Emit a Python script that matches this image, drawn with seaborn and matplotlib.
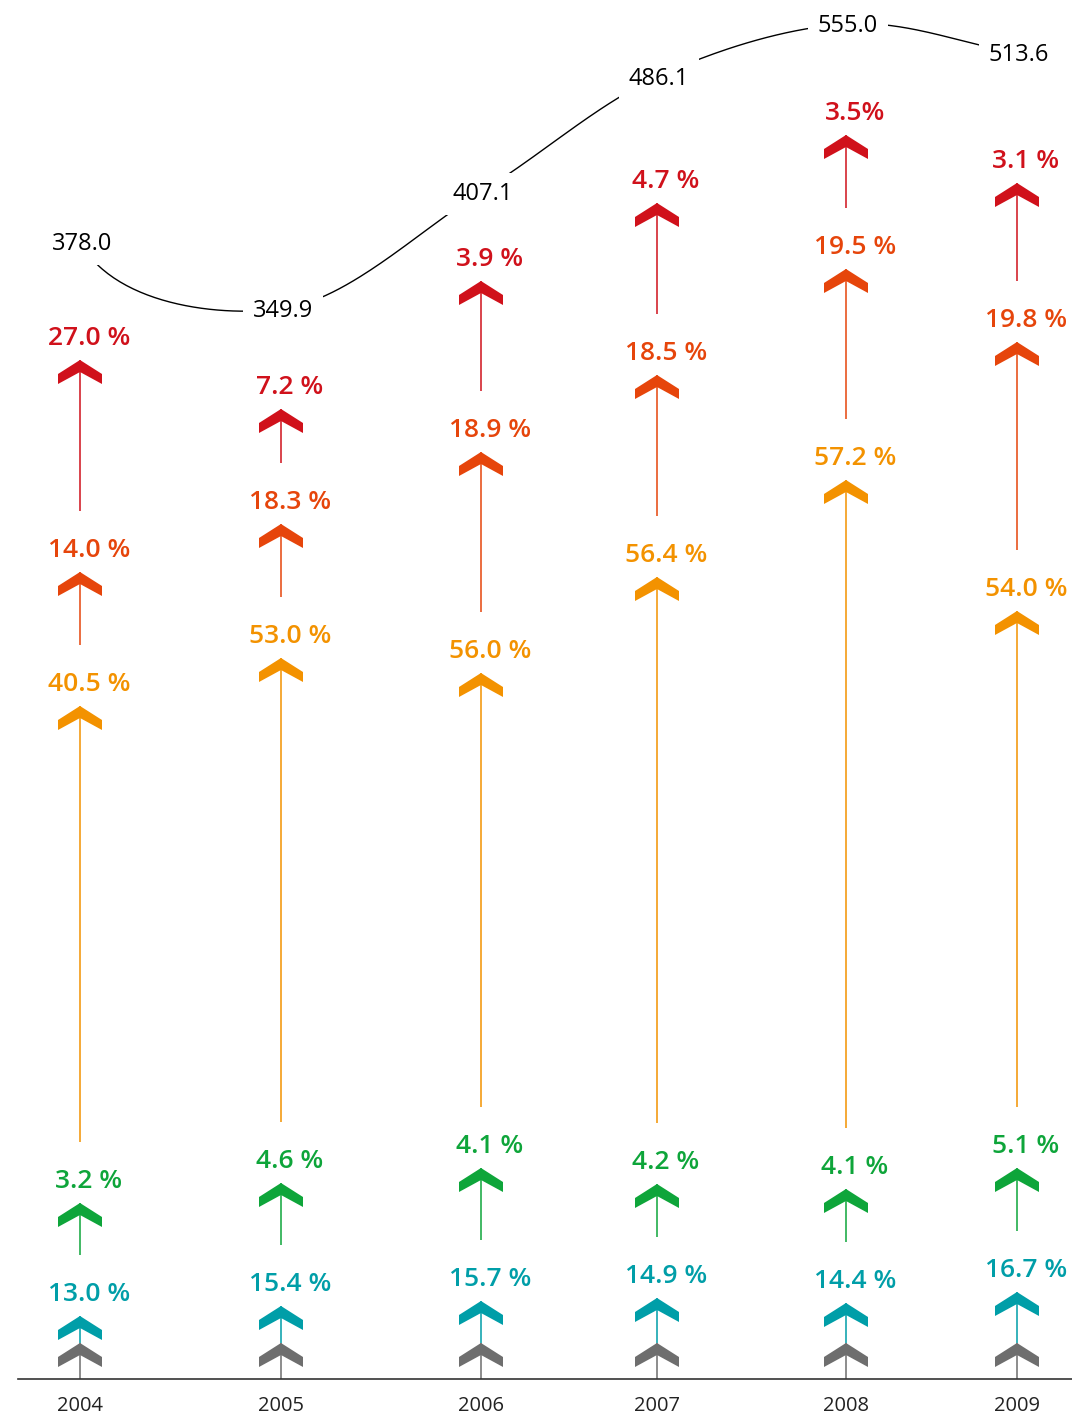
import matplotlib
matplotlib.use("Agg")
import matplotlib.pyplot as plt
import numpy as np
import pandas as pd
import seaborn as sns
from matplotlib.markers import MarkerStyle
from matplotlib.path import Path


YEARS = ["2004", "2005", "2006", "2007", "2008", "2009"]
TOTALS = [378.0, 349.9, 407.1, 486.1, 555.0, 513.6]
# height of the totals curve (chart units)
TOTAL_LEVEL = [1137, 1070, 1187, 1302, 1355, 1326]

SERIES = ["gray", "teal", "green", "orange", "orangered", "red"]
PCT = {
    "teal": [13.0, 15.4, 15.7, 14.9, 14.4, 16.7],
    "green": [3.2, 4.6, 4.1, 4.2, 4.1, 5.1],
    "orange": [40.5, 53.0, 56.0, 56.4, 57.2, 54.0],
    "orangered": [14.0, 18.3, 18.9, 18.5, 19.5, 19.8],
    "red": [27.0, 7.2, 3.9, 4.7, 3.5, 3.1],
}
# arrow tip levels per series (chart units)
TOP_GRAY = [36, 36, 36, 36, 36, 36]
TOP_TEAL = [63, 73, 78, 81, 76, 87]
TOP_GREEN = [176, 196, 211, 195, 190, 211]
TOP_ORANGE = [673, 721, 706, 802, 899, 768]
TOP_ORANGERED = [807, 855, 927, 1004, 1110, 1037]
TOP_RED = [1019, 970, 1098, 1176, 1244, 1196]

FARGER = {
    "gray": "#6e6e6e",
    "teal": "#009ea8",
    "green": "#0ea53a",
    "orange": "#f39200",
    "orangered": "#e6450b",
    "red": "#d0111b",
}

# layout
COL_X = [80, 281, 481, 657, 846, 1017]
LINE_GAP = 61
LABEL_RISE = 15
LABEL_DX = 9
CHEVRON_H = 24
W_PX, H_PX = 1072, 1423
BASE_PX = 44


def lag_chevron() -> MarkerStyle:
    verts = [(0, 12), (22, -2), (22, -12), (0, 0), (-22, -12), (-22, -2), (0, 12)]
    codes = [Path.MOVETO] + [Path.LINETO] * 5 + [Path.CLOSEPOLY]
    return MarkerStyle(Path(verts, codes))


def bygg_data() -> pd.DataFrame:
    tops = {
        "gray": TOP_GRAY,
        "teal": TOP_TEAL,
        "green": TOP_GREEN,
        "orange": TOP_ORANGE,
        "orangered": TOP_ORANGERED,
        "red": TOP_RED,
    }
    rader = []
    for i, år in enumerate(YEARS):
        forrige = 0
        for n, serie in enumerate(SERIES):
            topp = tops[serie][i]
            if n == 0:
                hale = 0
            elif n == 1:
                hale = forrige
            else:
                hale = forrige + LINE_GAP
            pct = PCT.get(serie, [None] * 6)[i]
            tekst = ""
            if pct is not None:
                sep = "" if (serie == "red" and år == "2008") else " "
                tekst = f"{pct:.1f}{sep}%"
            rader.append(
                {"år": år, "x": COL_X[i], "serie": serie, "topp": topp, "hale": hale, "tekst": tekst}
            )
            forrige = topp
    return pd.DataFrame(rader)


def catmull_rom(px, py, lead=300, n=60):
    pts = np.column_stack([px, py]).astype(float)
    før = pts[0] + np.array([0.0, lead])
    etter = 2 * pts[-1] - pts[-2]
    p = np.vstack([før, pts, etter])
    t = np.linspace(0, 1, n)[:, None]
    kurve = []
    for i in range(1, len(p) - 2):
        p0, p1, p2, p3 = p[i - 1], p[i], p[i + 1], p[i + 2]
        seg = 0.5 * (
            2 * p1
            + (-p0 + p2) * t
            + (2 * p0 - 5 * p1 + 4 * p2 - p3) * t ** 2
            + (-p0 + 3 * p1 - 3 * p2 + p3) * t ** 3
        )
        kurve.append(seg)
    kurve = np.vstack(kurve)
    return kurve[:, 0], kurve[:, 1]


def main() -> None:
    sns.set_theme(style="white")
    plt.rcParams["font.family"] = ["Open Sans", "DejaVu Sans"]

    df = bygg_data()

    fig = plt.figure(figsize=(W_PX / 100, H_PX / 100), dpi=100)
    ax = fig.add_axes([0, BASE_PX / H_PX, 1, 1 - BASE_PX / H_PX])
    ax.set_xlim(0, W_PX)
    ax.set_ylim(0, H_PX - BASE_PX)

    # tynne skaft
    ax.vlines(df["x"], df["hale"], df["topp"], colors=df["serie"].map(FARGER), linewidth=1.1, zorder=2)

    # pilhoder
    df["chevron_y"] = df["topp"] - CHEVRON_H / 2
    sns.scatterplot(
        data=df, x="x", y="chevron_y", hue="serie", palette=FARGER, marker=lag_chevron(),
        s=(44 * 0.72) ** 2, linewidth=0, legend=False, ax=ax, zorder=3,
    )

    for _, rad in df[df["tekst"] != ""].iterrows():
        ax.text(rad["x"] + LABEL_DX, rad["topp"] + LABEL_RISE, rad["tekst"], color=FARGER[rad["serie"]],
                fontsize=19, fontweight="semibold", ha="center", va="baseline", zorder=4)

    # totalkurve
    kx, ky = catmull_rom(COL_X, TOTAL_LEVEL)
    sns.lineplot(x=kx, y=ky, sort=False, estimator=None, color="black", linewidth=1.0, ax=ax, zorder=1)
    for x, niv, tot in zip(COL_X, TOTAL_LEVEL, TOTALS):
        ax.text(x + 2, niv - 8, f"{tot:.1f}", color="black", fontsize=17, fontweight="medium",
                ha="center", va="baseline", zorder=5,
                bbox=dict(boxstyle="square,pad=0.4", facecolor="white", edgecolor="none"))

    for side in ["top", "left", "right"]:
        ax.spines[side].set_visible(False)
    ax.spines["bottom"].set_bounds(18, W_PX)
    ax.spines["bottom"].set_color("#333333")
    ax.spines["bottom"].set_linewidth(1.2)
    ax.set_xticks(COL_X)
    ax.set_xticklabels(YEARS)
    ax.tick_params(axis="x", length=0, pad=12, labelsize=14.5, labelcolor="#222222")
    ax.set_yticks([])
    ax.set_xlabel("")
    ax.set_ylabel("")

    fig.savefig("out.png", dpi=100)
    plt.close(fig)


if __name__ == "__main__":
    main()
